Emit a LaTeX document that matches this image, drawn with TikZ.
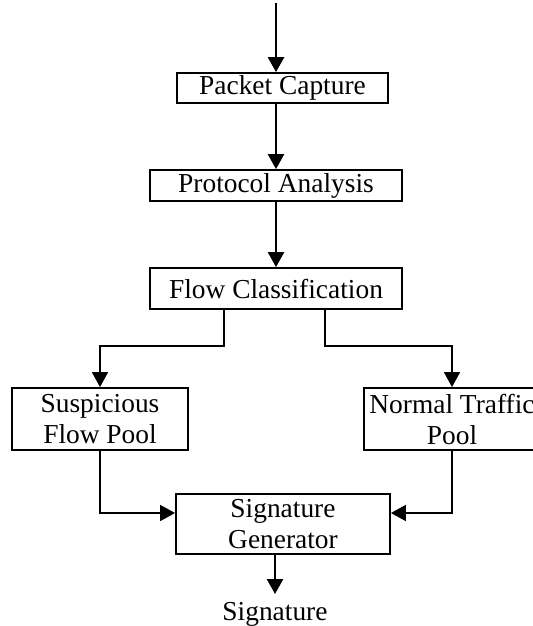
\documentclass[tikz,border=0pt]{standalone}
\usepackage{fontspec}
\setmainfont{Liberation Serif}
\usetikzlibrary{arrows.meta, positioning}

\begin{document}
\begin{tikzpicture}[
  x=0.5pt, y=-0.5pt,
  every node/.style={font=\fontsize{13.7}{15.5}\selectfont},
  box/.style={rectangle, draw, line width=0.9pt, inner sep=1pt, align=center},
  arrow/.style={-{Triangle[length=7.5pt, width=8pt]}, line width=1.3pt},
  branch/.style={-{Triangle[length=7.5pt, width=8pt]}, line width=0.8pt},
]
\useasboundingbox (0,0) rectangle (533,626);

\coordinate (in) at (276,3);
\node[box, minimum width=105.5pt, minimum height=15pt] (pkt) at (282.5,88) {Packet Capture};
\node[box, minimum width=126pt, minimum height=15.5pt] (prot) at (276,185.5) {Protocol Analysis};
\node[box, minimum width=126pt, minimum height=20.5pt] (flow) at (276,288.5) {Flow Classification};
\node[box, minimum width=88pt, minimum height=31pt] (susp) at (100,419) {Suspicious\\Flow Pool};
\node[box, minimum width=88pt, minimum height=31pt] (norm) at (452,419) {Normal Traffic\\Pool};
\node[box, minimum width=107pt, minimum height=30pt] (gen) at (283,524) {Signature\\Generator};
\node[inner sep=4pt, anchor=north] (sig) at (275,594) {Signature};

\draw[arrow] (in) -- (in |- pkt.north);
\draw[arrow] (pkt.south -| prot.north) -- (prot.north);
\draw[arrow] (prot) -- (flow);
\draw[branch] ([xshift=-26pt]flow.south) |- ([yshift=20.5pt]susp.north) -- (susp.north);
\draw[branch] ([xshift=24.5pt]flow.south) |- ([yshift=20.5pt]norm.north) -- (norm.north);
\draw[branch] (susp.south) |- ([yshift=5.5pt]gen.west);
\draw[branch] (norm.south) |- ([yshift=5.5pt]gen.east);
\draw[arrow] (gen.south -| sig.north) -- (sig.north);
\end{tikzpicture}
\end{document}
